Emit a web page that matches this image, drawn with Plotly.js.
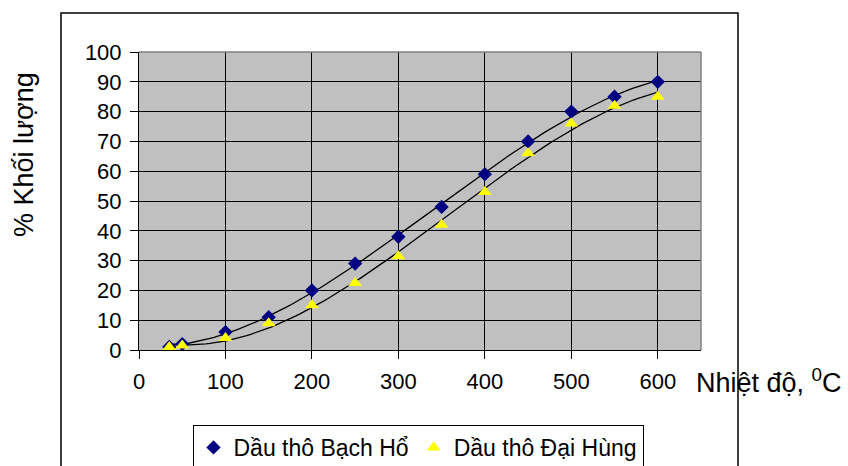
<!DOCTYPE html>
<html>
<head>
<meta charset="utf-8">
<script src="https://cdn.plot.ly/plotly-3.0.1.min.js"></script>
<style>html,body{margin:0;padding:0;background:#fff;}#chart{width:848px;height:466px;}</style>
</head>
<body>
<div id="chart"></div>
<script>
// Data
const temperature = [35, 50, 100, 150, 200, 250, 300, 350, 400, 450, 500, 550, 600];
const bachHo = [1, 2, 6, 11, 20, 29, 38, 48, 59, 70, 80, 85, 90];
const daiHung = [1, 1.5, 4, 9, 15, 22.5, 31.5, 42, 53, 66, 76, 82, 85];
const seriesNames = ["Dầu thô Bạch Hổ", "Dầu thô Đại Hùng"];
const xTicks = [0, 100, 200, 300, 400, 500, 600];
const yTicks = [0, 10, 20, 30, 40, 50, 60, 70, 80, 90, 100];

// Polynomial (order 3) least-squares trendline, as in the original spreadsheet chart
function polyFit(xs, ys, order) {
  const s = 100;
  const n = order + 1;
  const A = Array.from({length: n}, () => new Array(n + 1).fill(0));
  for (let k = 0; k < xs.length; k++) {
    const x = xs[k] / s;
    for (let i = 0; i < n; i++) {
      for (let j = 0; j < n; j++) A[i][j] += Math.pow(x, i + j);
      A[i][n] += ys[k] * Math.pow(x, i);
    }
  }
  for (let c = 0; c < n; c++) {
    let p = c;
    for (let r = c + 1; r < n; r++) if (Math.abs(A[r][c]) > Math.abs(A[p][c])) p = r;
    [A[c], A[p]] = [A[p], A[c]];
    for (let r = 0; r < n; r++) {
      if (r === c) continue;
      const f = A[r][c] / A[c][c];
      for (let j = c; j <= n; j++) A[r][j] -= f * A[c][j];
    }
  }
  const coef = A.map((row, i) => row[n] / row[i]);
  return x => coef.reduce((acc, cc, i) => acc + cc * Math.pow(x / s, i), 0);
}
function trend(xs, ys) {
  const f = polyFit(xs, ys, 3);
  const x0 = xs[0], x1 = xs[xs.length - 1];
  const tx = [], ty = [];
  for (let i = 0; i <= 120; i++) { const x = x0 + (x1 - x0) * i / 120; tx.push(x); ty.push(f(x)); }
  return {tx, ty};
}
const t1 = trend(temperature, bachHo);
const t2 = trend(temperature, daiHung);

const FONT = "Liberation Sans, Arial, sans-serif";
const traces = [
  {x: t1.tx, y: t1.ty, mode: "lines", line: {color: "#000", width: 1.3}, showlegend: false, hoverinfo: "skip"},
  {x: t2.tx, y: t2.ty, mode: "lines", line: {color: "#000", width: 1.3}, showlegend: false, hoverinfo: "skip"},
  {x: temperature, y: bachHo, mode: "markers", name: seriesNames[0],
   marker: {symbol: "diamond", size: 11, color: "#000080"}},
  {x: temperature, y: daiHung, mode: "markers", name: seriesNames[1],
   marker: {symbol: "triangle-up", size: 12, color: "#FFFF00"}}
];

const L = 139, R = 701, T = 52, B = 350;
const W = 848, H = 466;
const px = v => (v - L) / (R - L);
const py = v => (B - v) / (B - T);

const layout = {
  width: W, height: H,
  margin: {l: L, r: W - R, t: T, b: H - B, autoexpand: false},
  paper_bgcolor: "#fff",
  plot_bgcolor: "#C0C0C0",
  font: {family: FONT, size: 22, color: "#000"},
  showlegend: true,
  xaxis: {
    range: [0, 650], tickvals: xTicks, ticktext: xTicks.map(String),
    ticks: "outside", ticklen: 8, tickwidth: 1, tickcolor: "#000",
    showline: true, linecolor: "#000", linewidth: 1,
    showgrid: true, gridcolor: "#000", gridwidth: 1,
    zeroline: false, ticklabelstandoff: 4, automargin: false,
    tickfont: {family: FONT, size: 22, color: "#000"}, fixedrange: true
  },
  yaxis: {
    range: [0, 100], tickvals: yTicks, ticktext: yTicks.map(String),
    ticks: "outside", ticklen: 8, tickwidth: 1, tickcolor: "#000",
    showline: true, linecolor: "#000", linewidth: 1,
    showgrid: true, gridcolor: "#000", gridwidth: 1,
    zeroline: false, ticklabelstandoff: 4, automargin: false,
    tickfont: {family: FONT, size: 22, color: "#000"}, fixedrange: true
  },
  legend: {
    orientation: "h", x: px(418), xanchor: "center", y: py(425), yanchor: "top",
    bordercolor: "#000", borderwidth: 1, bgcolor: "#fff",
    font: {family: FONT, size: 23, color: "#000"},
    itemwidth: 30, tracegroupgap: 0
  },
  shapes: [
    {type: "line", xref: "paper", yref: "paper", x0: 0, x1: 1, y0: 1, y1: 1, line: {color: "#808080", width: 1.5}},
    {type: "line", xref: "paper", yref: "paper", x0: 1, x1: 1, y0: 0, y1: 1, line: {color: "#808080", width: 1.5}},
    {type: "rect", xref: "paper", yref: "paper", x0: px(61), x1: px(738), y0: py(467), y1: py(13),
     line: {color: "#000", width: 1.5}, fillcolor: "rgba(0,0,0,0)", layer: "below"}
  ],
  annotations: [
    {text: "% Khối lượng", xref: "paper", yref: "paper", x: px(24), y: py(155), textangle: -90,
     showarrow: false, xanchor: "center", yanchor: "middle", font: {family: FONT, size: 27, color: "#000"}},
    {text: "Nhiệt độ, <sup>0</sup>C", xref: "paper", yref: "paper", x: px(694), y: py(381),
     showarrow: false, xanchor: "left", yanchor: "middle", font: {family: FONT, size: 27, color: "#000"}}
  ]
};

Plotly.newPlot("chart", traces, layout, {displayModeBar: false, staticPlot: true});
</script>
</body>
</html>
